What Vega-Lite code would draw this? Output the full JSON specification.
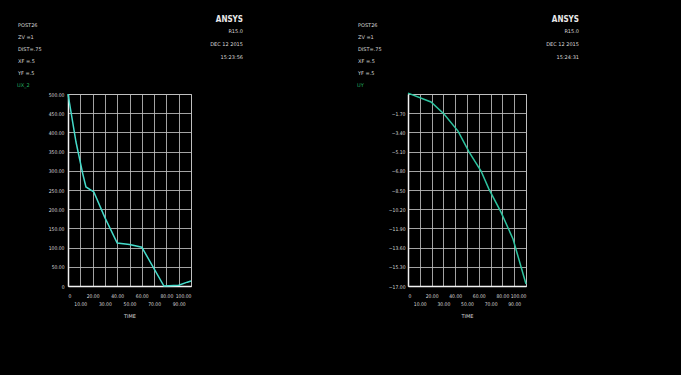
{
  "$schema": "https://vega.github.io/schema/vega-lite/v6.json",
  "background": "black",
  "padding": {"left": 17, "top": 15, "right": 103, "bottom": 56},
  "config": {
    "font": "DejaVu Sans",
    "view": {"stroke": "#bdbdbd", "strokeWidth": 1},
    "axis": {
      "labelColor": "#d8d8d8",
      "labelFontSize": 5,
      "labelFont": "DejaVu Sans Condensed",
      "gridColor": "#c0c0c0",
      "gridOpacity": 0.85,
      "gridWidth": 1,
      "domainColor": "#f2f2f2",
      "domainWidth": 1.5,
      "ticks": false,
      "titleColor": "#d8d8d8",
      "titleFontSize": 5,
      "titleFontWeight": "normal",
      "titleFont": "DejaVu Sans"
    },
    "title": {
      "anchor": "end",
      "frame": "group",
      "font": "DejaVu Sans Condensed",
      "fontSize": 8,
      "fontWeight": "bold",
      "color": "#e8e8e8",
      "subtitleFont": "DejaVu Sans",
      "subtitleFontSize": 5,
      "subtitleColor": "#d8d8d8",
      "subtitleLineHeight": 13,
      "subtitlePadding": 5,
      "offset": 34,
      "dy": 71
    },
    "legend": {
      "orient": "none",
      "legendX": -50,
      "legendY": -71,
      "titleFont": "DejaVu Sans",
      "titleFontSize": 5,
      "titleLineHeight": 12,
      "titleColor": "#d8d8d8",
      "titleFontWeight": "normal",
      "titlePadding": 6,
      "labelFont": "DejaVu Sans",
      "labelFontSize": 5,
      "labelColor": "#22b060",
      "symbolSize": 0,
      "symbolStrokeWidth": 0,
      "labelOffset": -6,
      "padding": 0
    }
  },
  "spacing": 217,
  "bounds": "flush",
  "resolve": {"scale": {"color": "independent"}, "legend": {"color": "independent"}},
  "hconcat": [
    {
      "width": 123,
      "height": 192,
      "title": {"text": "ANSYS", "subtitle": ["R15.0", "DEC 12 2015", "15:23:56"], "dx": 52},
      "data": {
        "values": [
          {"t": 0, "v": 500, "series": "UX_2"},
          {"t": 6.5, "v": 375, "series": "UX_2"},
          {"t": 12, "v": 292, "series": "UX_2"},
          {"t": 14.6, "v": 258, "series": "UX_2"},
          {"t": 21, "v": 245, "series": "UX_2"},
          {"t": 30, "v": 178, "series": "UX_2"},
          {"t": 40, "v": 112, "series": "UX_2"},
          {"t": 50, "v": 108, "series": "UX_2"},
          {"t": 60, "v": 101, "series": "UX_2"},
          {"t": 78, "v": 0, "series": "UX_2"},
          {"t": 90, "v": 2, "series": "UX_2"},
          {"t": 97, "v": 10, "series": "UX_2"},
          {"t": 100, "v": 13, "series": "UX_2"}
        ]
      },
      "mark": {"type": "line", "strokeWidth": 1.5},
      "encoding": {
        "x": {
          "field": "t",
          "type": "quantitative",
          "scale": {"domain": [0, 100], "nice": false},
          "axis": {
            "values": [0, 10, 20, 30, 40, 50, 60, 70, 80, 90, 100],
            "labelExpr": "round(datum.value / 10) % 2 == 1 ? ['', format(datum.value, '.2f')] : (datum.value == 0 ? '0' : format(datum.value, '.2f'))",
            "labelLineHeight": 8,
            "labelPadding": 7,
            "labelOverlap": false,
            "title": "TIME",
            "titlePadding": 7
          }
        },
        "y": {
          "field": "v",
          "type": "quantitative",
          "scale": {"domain": [0, 500], "nice": false},
          "axis": {
            "values": [0, 50, 100, 150, 200, 250, 300, 350, 400, 450, 500],
            "labelExpr": "datum.value == 0 ? '0' : format(datum.value, '.2f')",
            "labelPadding": 4,
            "labelOverlap": false,
            "title": null
          }
        },
        "color": {
          "field": "series",
          "type": "nominal",
          "scale": {"range": ["#45dccb"]},
          "legend": {"title": ["POST26", "ZV  =1", "DIST=.75", "XF  =.5", "YF  =.5"]}
        }
      }
    },
    {
      "width": 118,
      "height": 192,
      "title": {"text": "ANSYS", "subtitle": ["R15.0", "DEC 12 2015", "15:24:31"], "dx": 53},
      "data": {
        "values": [
          {"t": 0, "v": 0.08, "series": "UY"},
          {"t": 19.5, "v": -0.71, "series": "UY"},
          {"t": 30.5, "v": -1.77, "series": "UY"},
          {"t": 42.4, "v": -3.28, "series": "UY"},
          {"t": 51.7, "v": -5.13, "series": "UY"},
          {"t": 61.9, "v": -6.82, "series": "UY"},
          {"t": 68.6, "v": -8.42, "series": "UY"},
          {"t": 78.8, "v": -10.46, "series": "UY"},
          {"t": 89, "v": -12.84, "series": "UY"},
          {"t": 100, "v": -16.83, "series": "UY"}
        ]
      },
      "mark": {"type": "line", "strokeWidth": 1.5},
      "encoding": {
        "x": {
          "field": "t",
          "type": "quantitative",
          "scale": {"domain": [0, 100], "nice": false},
          "axis": {
            "values": [0, 10, 20, 30, 40, 50, 60, 70, 80, 90, 100],
            "labelExpr": "round(datum.value / 10) % 2 == 1 ? ['', format(datum.value, '.2f')] : (datum.value == 0 ? '0' : format(datum.value, '.2f'))",
            "labelLineHeight": 8,
            "labelPadding": 7,
            "labelOverlap": false,
            "title": "TIME",
            "titlePadding": 7
          }
        },
        "y": {
          "field": "v",
          "type": "quantitative",
          "scale": {"domain": [-17, 0], "nice": false, "zero": false},
          "axis": {
            "values": [-17, -15.3, -13.6, -11.9, -10.2, -8.5, -6.8, -5.1, -3.4, -1.7, 0],
            "labelExpr": "datum.value == 0 ? '' : format(datum.value, '.2f')",
            "labelPadding": 3,
            "labelOverlap": false,
            "title": null
          }
        },
        "color": {
          "field": "series",
          "type": "nominal",
          "scale": {"range": ["#2ec4a0"]},
          "legend": {"title": ["POST26", "ZV  =1", "DIST=.75", "XF  =.5", "YF  =.5"]}
        }
      }
    }
  ]
}
